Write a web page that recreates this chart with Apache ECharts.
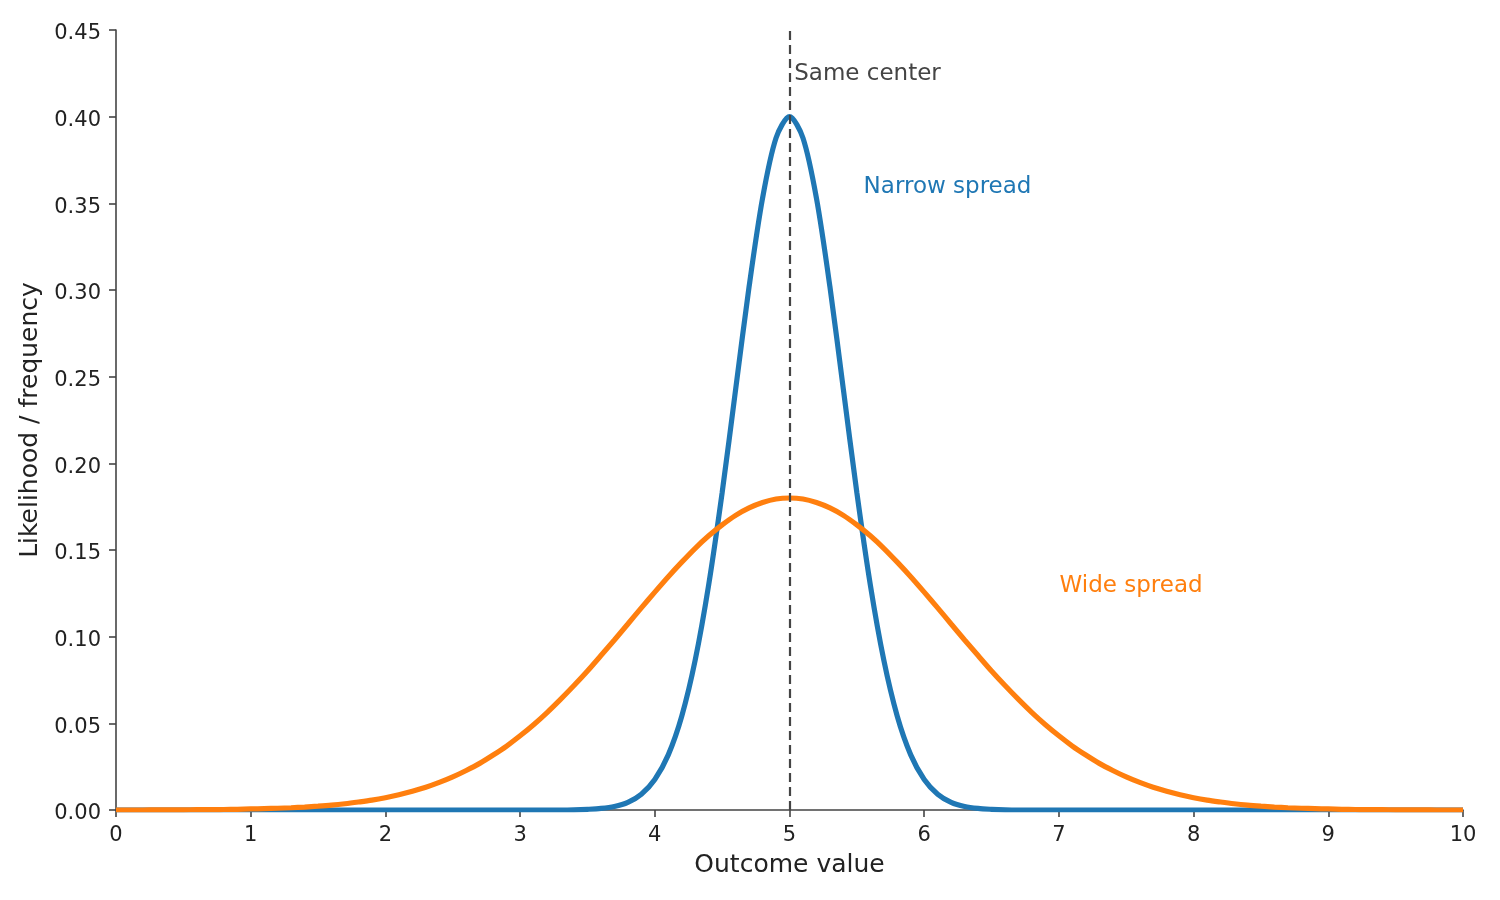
<!DOCTYPE html>
<html>
<head>
<meta charset="utf-8">
<script src="https://cdn.jsdelivr.net/npm/echarts@6/dist/echarts.min.js"></script>
<style>
html,body{margin:0;padding:0;background:#fff;}
#chart{width:1500px;height:900px;}
</style>
</head>
<body>
<div id="chart"></div>
<script>
// Sample positions along the outcome axis
const xs = [
 0.0,0.1,0.2,0.3,0.4,0.5,0.6,0.7,0.8,0.9,
 1.0,1.1,1.2,1.3,1.4,1.5,1.6,1.7,1.8,1.9,
 2.0,2.1,2.2,2.3,2.4,2.5,2.6,2.7,2.8,2.9,
 3.0,3.1,3.2,3.3,3.4,3.5,3.6,3.7,3.8,3.9,
 4.0,4.1,4.2,4.3,4.4,4.5,4.6,4.7,4.8,4.9,
 5.0,5.1,5.2,5.3,5.4,5.5,5.6,5.7,5.8,5.9,
 6.0,6.1,6.2,6.3,6.4,6.5,6.6,6.7,6.8,6.9,
 7.0,7.1,7.2,7.3,7.4,7.5,7.6,7.7,7.8,7.9,
 8.0,8.1,8.2,8.3,8.4,8.5,8.6,8.7,8.8,8.9,
 9.0,9.1,9.2,9.3,9.4,9.5,9.6,9.7,9.8,9.9,
 10.0
];

// Narrow spread (blue) values
const narrowSpread = [
 0,0,0,0,0,0,0,0,0,0,
 0,0,0,0,0,0,0,0,0,0,
 0,0,0,0,0,0,0,0,0,0,
 0,0,0,0,0.0001,0.0004,0.0009,0.0020,0.0044,0.0091,
 0.0176,0.0318,0.0541,0.0865,0.1299,0.1831,0.2426,0.3019,0.3530,0.3877,
 0.4000,
 0.3877,0.3530,0.3019,0.2426,0.1831,0.1299,0.0865,0.0541,0.0318,0.0176,
 0.0091,0.0044,0.0020,0.0009,0.0004,0.0001,0,0,0,0,
 0,0,0,0,0,0,0,0,0,0,
 0,0,0,0,0,0,0,0,0,0,
 0,0,0,0,0,0,0,0,0,0
];

// Wide spread (orange) values
const wideSpread = [
 0.0000,0.0000,0.0000,0.0001,0.0001,0.0001,0.0002,0.0002,0.0003,0.0004,
 0.0006,0.0008,0.0010,0.0013,0.0017,0.0022,0.0028,0.0036,0.0046,0.0057,
 0.0071,0.0088,0.0108,0.0131,0.0159,0.0191,0.0228,0.0269,0.0317,0.0369,
 0.0428,0.0492,0.0562,0.0638,0.0718,0.0802,0.0891,0.0981,0.1073,0.1166,
 0.1257,0.1346,0.1430,0.1510,0.1582,0.1645,0.1700,0.1743,0.1774,0.1794,
 0.1800,
 0.1794,0.1774,0.1743,0.1700,0.1645,0.1582,0.1510,0.1430,0.1346,0.1257,
 0.1166,0.1073,0.0981,0.0891,0.0802,0.0718,0.0638,0.0562,0.0492,0.0428,
 0.0369,0.0317,0.0269,0.0228,0.0191,0.0159,0.0131,0.0108,0.0088,0.0071,
 0.0057,0.0046,0.0036,0.0028,0.0022,0.0017,0.0013,0.0010,0.0008,0.0006,
 0.0004,0.0003,0.0002,0.0002,0.0001,0.0001,0.0001,0.0000,0.0000,0.0000
];

const centerValue = 5;
const annotations = [
 {text:'Same center', x:5.035, y:0.4245, color:'#444444'},
 {text:'Narrow spread', x:5.55, y:0.3595, color:'#1f77b4'},
 {text:'Wide spread', x:7.005, y:0.1295, color:'#ff7f0e'}
];

const FONT = 'DejaVu Sans';
const AXIS_COLOR = '#444444';
const TEXT_COLOR = '#222222';

function pairs(ys){ return xs.map((x,i)=>[x, ys[i]]); }

function annotationPoint(a){
  return {
    coord:[a.x, a.y],
    symbol:'circle',
    symbolSize:0,
    label:{
      show:true,
      formatter:a.text,
      position:'right',
      distance:0,
      color:a.color,
      fontFamily:FONT,
      fontSize:23,
      align:'left',
      verticalAlign:'middle'
    }
  };
}

const chart = echarts.init(document.getElementById('chart'), null, {renderer:'canvas'});
chart.setOption({
  animation:false,
  backgroundColor:'#ffffff',
  grid:{left:116, right:37, top:30, bottom:90, containLabel:false},
  xAxis:{
    type:'value', min:0, max:10, interval:1,
    name:'Outcome value', nameLocation:'middle', nameGap:43,
    nameTextStyle:{color:TEXT_COLOR, fontFamily:FONT, fontSize:25},
    axisLine:{show:true, onZero:false, lineStyle:{color:AXIS_COLOR, width:1.6}},
    axisTick:{show:true, inside:false, length:7, lineStyle:{color:AXIS_COLOR, width:1.6}},
    axisLabel:{color:TEXT_COLOR, fontFamily:FONT, fontSize:21, margin:15},
    splitLine:{show:false}
  },
  yAxis:{
    type:'value', min:0, max:0.45, interval:0.05,
    name:'Likelihood / frequency', nameLocation:'middle', nameGap:64,
    nameTextStyle:{color:TEXT_COLOR, fontFamily:FONT, fontSize:25},
    axisLine:{show:true, onZero:false, lineStyle:{color:AXIS_COLOR, width:1.6}},
    axisTick:{show:true, inside:false, length:7, lineStyle:{color:AXIS_COLOR, width:1.6}},
    axisLabel:{color:TEXT_COLOR, fontFamily:FONT, fontSize:21, margin:15,
      formatter:v=>'{t|' + v.toFixed(2) + '}',
      rich:{t:{color:TEXT_COLOR, fontFamily:FONT, fontSize:21, padding:[8,0,0,0]}}},
    splitLine:{show:false}
  },
  series:[
    {
      name:'Narrow spread', type:'line', data:pairs(narrowSpread),
      showSymbol:false, smooth:0.3, z:2,
      lineStyle:{color:'#1f77b4', width:5.2},
      itemStyle:{color:'#1f77b4'},
      markPoint:{silent:true, data:[annotationPoint(annotations[1])]}
    },
    {
      name:'Wide spread', type:'line', data:pairs(wideSpread),
      showSymbol:false, smooth:0.3, z:3,
      lineStyle:{color:'#ff7f0e', width:5.2},
      itemStyle:{color:'#ff7f0e'},
      markPoint:{silent:true, data:[annotationPoint(annotations[2])]}
    },
    {
      name:'Center', type:'line', data:[], z:4,
      markLine:{
        silent:true, symbol:['none','none'],
        label:{show:false},
        lineStyle:{color:AXIS_COLOR, width:2.2, type:[9,5]},
        data:[{xAxis:centerValue}]
      },
      markPoint:{silent:true, data:[annotationPoint(annotations[0])]}
    }
  ]
});
</script>
</body>
</html>
